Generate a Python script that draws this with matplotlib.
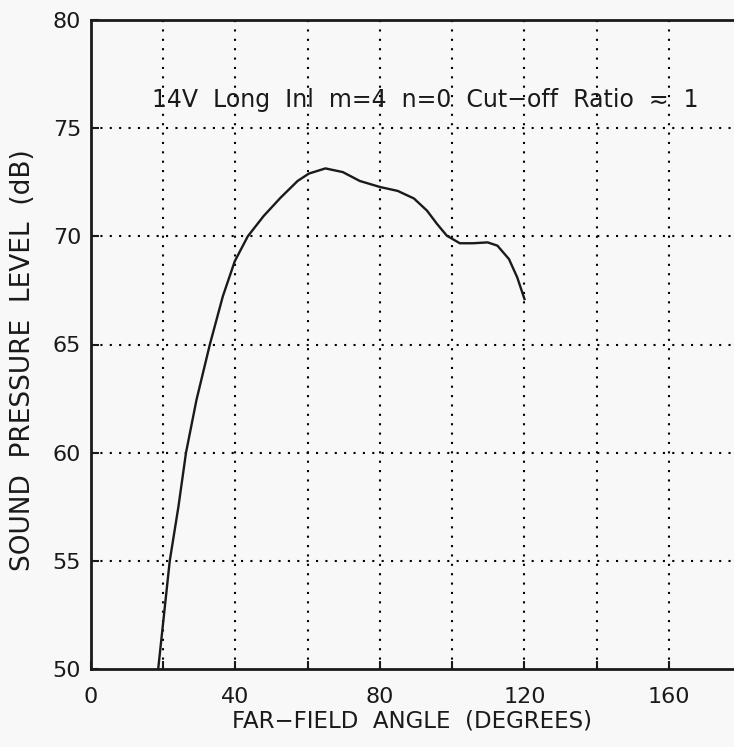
import matplotlib
matplotlib.use("Agg")
import matplotlib.pyplot as plt

angle = [18.6, 21.8, 24.2, 26.3, 29.2, 32.9, 36.5, 39.8, 43.4, 47.8, 52.5, 57.2, 60.3,
         64.9, 69.7, 74.4, 80.0, 84.9, 89.4, 93.0, 95.8, 98.5, 102.1, 105.7, 109.8,
         112.5, 115.7, 118.0, 120.0]
spl = [50.0, 55.0, 57.5, 60.0, 62.44, 65.0, 67.23, 68.85, 70.0, 70.94, 71.79, 72.56, 72.9,
       73.14, 72.97, 72.56, 72.28, 72.1, 71.75, 71.19, 70.57, 70.03, 69.68, 69.68, 69.72,
       69.57, 68.95, 68.1, 67.1]

xticks = [0, 40, 80, 120, 160]
xgrid = [20, 40, 60, 80, 100, 120, 140, 160]
yticks = [50, 55, 60, 65, 70, 75, 80]
annotation = "14V  Long  Inl  m=4  n=0  Cut\u2212off  Ratio  \u2242  1"

ink = "#1a1a1a"
bg = "#f8f8f8"
fig = plt.figure(figsize=(7.34, 7.47), dpi=100, facecolor=bg)
ax = fig.add_axes([91/734, 1 - 669/747, 1 - 91/734, (669 - 20)/747], facecolor=bg)

for gx in xgrid:
    ax.axvline(gx, color="black", lw=1.5, ls=(0, (1, 3.5)), zorder=1)
for gy in yticks[1:-1]:
    ax.axhline(gy, color="black", lw=1.5, ls=(0, (1, 3.5)), zorder=1)

ax.plot(angle, spl, color=ink, lw=1.7, zorder=3, solid_joinstyle="round")

ax.set_xlim(0, 178)
ax.set_ylim(50, 80)
ax.set_xticks(xgrid, minor=True)
ax.set_xticks(xticks)
ax.set_yticks(yticks)
ax.tick_params(axis="both", which="both", direction="in", length=6, width=1.5,
               labelsize=16, colors=ink)
ax.tick_params(axis="x", pad=13)
ax.tick_params(axis="y", pad=7)
ax.tick_params(right=False, top=False)

for side in ["left", "bottom", "top"]:
    ax.spines[side].set_linewidth(2.0)
    ax.spines[side].set_color(ink)
ax.spines["right"].set_visible(False)

ax.set_xlabel("FAR\u2212FIELD  ANGLE  (DEGREES)", fontsize=16.5, color=ink)
ax.xaxis.set_label_coords((412 - 91) / 643, -(710 - 669) / 649)
ax.set_ylabel("SOUND  PRESSURE  LEVEL  (dB)", fontsize=19, color=ink)
ax.yaxis.set_label_coords(-(91 - 36) / 643, (669 - 360) / 649)

ax.text(17, 76.3, annotation, fontsize=17, color=ink, va="center", ha="left", zorder=4)

fig.savefig("out.png", dpi=100, facecolor=bg)
